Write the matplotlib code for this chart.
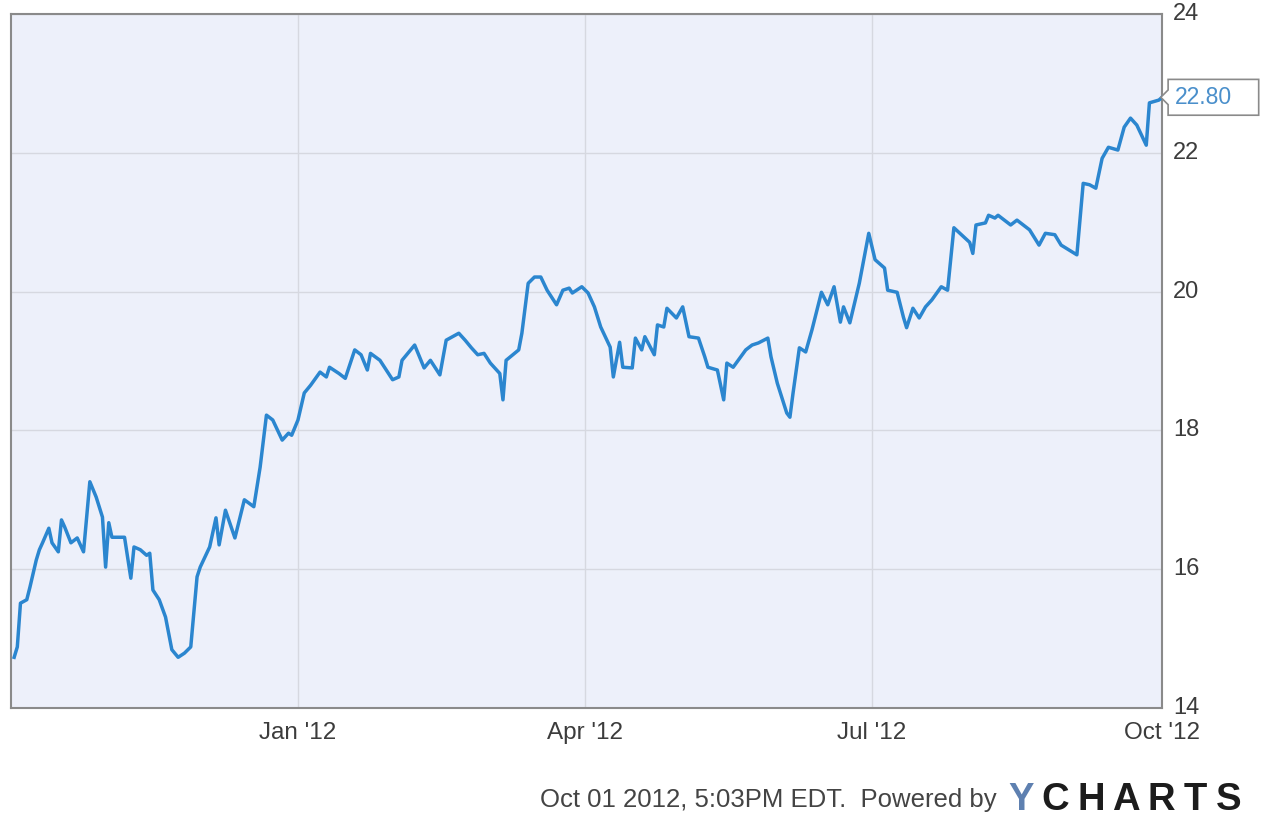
import matplotlib
matplotlib.use("Agg")
import matplotlib.pyplot as plt
from matplotlib.path import Path
import pandas as pd

dates = [
    "2011-10-03", "2011-10-04", "2011-10-05", "2011-10-07", "2011-10-08", "2011-10-10",
    "2011-10-11", "2011-10-12", "2011-10-14", "2011-10-15", "2011-10-17", "2011-10-18",
    "2011-10-19", "2011-10-21", "2011-10-23", "2011-10-25", "2011-10-27", "2011-10-29",
    "2011-10-31", "2011-11-01", "2011-11-02", "2011-11-03", "2011-11-07", "2011-11-09",
    "2011-11-10", "2011-11-12", "2011-11-14", "2011-11-15", "2011-11-16", "2011-11-18",
    "2011-11-20", "2011-11-22", "2011-11-24", "2011-11-26", "2011-11-28", "2011-11-30",
    "2011-12-01", "2011-12-04", "2011-12-06", "2011-12-07", "2011-12-09", "2011-12-12",
    "2011-12-15", "2011-12-18", "2011-12-20", "2011-12-22", "2011-12-24", "2011-12-27",
    "2011-12-29", "2011-12-30", "2012-01-01", "2012-01-03", "2012-01-05", "2012-01-08",
    "2012-01-10", "2012-01-11", "2012-01-14", "2012-01-16", "2012-01-19", "2012-01-21",
    "2012-01-23", "2012-01-24", "2012-01-27", "2012-01-31", "2012-02-02", "2012-02-03",
    "2012-02-07", "2012-02-10", "2012-02-12", "2012-02-15", "2012-02-17", "2012-02-19",
    "2012-02-21", "2012-02-23", "2012-02-25", "2012-02-27", "2012-02-29", "2012-03-02",
    "2012-03-05", "2012-03-06", "2012-03-07", "2012-03-11", "2012-03-12", "2012-03-14",
    "2012-03-16", "2012-03-18", "2012-03-20", "2012-03-23", "2012-03-25", "2012-03-27",
    "2012-03-28", "2012-03-31", "2012-04-02", "2012-04-04", "2012-04-06", "2012-04-09",
    "2012-04-10", "2012-04-12", "2012-04-13", "2012-04-16", "2012-04-17", "2012-04-19",
    "2012-04-20", "2012-04-23", "2012-04-24", "2012-04-26", "2012-04-27", "2012-04-30",
    "2012-05-02", "2012-05-04", "2012-05-07", "2012-05-09", "2012-05-10", "2012-05-13",
    "2012-05-15", "2012-05-16", "2012-05-18", "2012-05-22", "2012-05-24", "2012-05-26",
    "2012-05-29", "2012-05-30", "2012-06-01", "2012-06-04", "2012-06-05", "2012-06-06",
    "2012-06-08", "2012-06-10", "2012-06-12", "2012-06-15", "2012-06-17", "2012-06-19",
    "2012-06-21", "2012-06-22", "2012-06-24", "2012-06-27", "2012-06-29", "2012-06-30",
    "2012-07-02", "2012-07-05", "2012-07-06", "2012-07-09", "2012-07-11", "2012-07-12",
    "2012-07-14", "2012-07-16", "2012-07-18", "2012-07-20", "2012-07-23", "2012-07-25",
    "2012-07-27", "2012-08-01", "2012-08-02", "2012-08-03", "2012-08-06", "2012-08-07",
    "2012-08-09", "2012-08-10", "2012-08-14", "2012-08-16", "2012-08-20", "2012-08-23",
    "2012-08-25", "2012-08-28", "2012-08-30", "2012-09-04", "2012-09-06", "2012-09-08",
    "2012-09-10", "2012-09-12", "2012-09-14", "2012-09-17", "2012-09-19", "2012-09-21",
    "2012-09-23", "2012-09-26", "2012-09-27", "2012-09-30", "2012-10-01",
]

prices = [
    14.73, 14.88, 15.51, 15.56, 15.74, 16.13,
    16.28, 16.38, 16.59, 16.38, 16.25, 16.71,
    16.61, 16.38, 16.45, 16.25, 17.26, 17.04,
    16.75, 16.03, 16.67, 16.46, 16.46, 15.87,
    16.32, 16.28, 16.20, 16.23, 15.70, 15.56,
    15.31, 14.84, 14.73, 14.79, 14.88, 15.89,
    16.03, 16.32, 16.74, 16.35, 16.85, 16.45,
    17.00, 16.90, 17.47, 18.22, 18.15, 17.86,
    17.96, 17.93, 18.15, 18.54, 18.65, 18.84,
    18.77, 18.91, 18.82, 18.75, 19.16, 19.09,
    18.87, 19.11, 19.01, 18.73, 18.77, 19.01,
    19.23, 18.90, 19.01, 18.80, 19.30, 19.35,
    19.40, 19.30, 19.19, 19.09, 19.11, 18.97,
    18.82, 18.44, 19.01, 19.16, 19.40, 20.12,
    20.21, 20.21, 20.02, 19.81, 20.02, 20.05,
    19.98, 20.07, 19.98, 19.78, 19.49, 19.20,
    18.77, 19.27, 18.91, 18.90, 19.33, 19.16,
    19.35, 19.09, 19.52, 19.49, 19.76, 19.62,
    19.78, 19.35, 19.33, 19.06, 18.91, 18.87,
    18.44, 18.97, 18.91, 19.16, 19.23, 19.26,
    19.33, 19.06, 18.68, 18.25, 18.19, 18.54,
    19.19, 19.13, 19.45, 19.99, 19.81, 20.07,
    19.56, 19.78, 19.55, 20.12, 20.60, 20.84,
    20.46, 20.34, 20.02, 19.99, 19.63, 19.48,
    19.76, 19.62, 19.78, 19.88, 20.07, 20.02,
    20.92, 20.71, 20.55, 20.96, 20.99, 21.10,
    21.06, 21.10, 20.96, 21.03, 20.89, 20.67,
    20.84, 20.82, 20.67, 20.53, 21.56, 21.54,
    21.49, 21.92, 22.08, 22.04, 22.37, 22.50,
    22.40, 22.11, 22.72, 22.76, 22.80,
]

x_start = "2011-10-02"
x_end = "2012-10-01"
tick_dates = ["2012-01-01", "2012-04-01", "2012-07-01", "2012-10-01"]
tick_labels = ["Jan '12", "Apr '12", "Jul '12", "Oct '12"]
y_ticks = [14, 16, 18, 20, 22, 24]
last_label = "22.80"
footer_text = "Oct 01 2012, 5:03PM EDT.  Powered by"
logo_letters = ["Y", "C", "H", "A", "R", "T", "S"]

plt.rcParams['font.family'] = ['Liberation Sans', 'DejaVu Sans']


def tag_box(x0, y0, width, height, mutation_size):
    pad = 0.28 * mutation_size
    tip = 0.32 * mutation_size
    extra = 0.9 * mutation_size
    x0 -= pad
    y0 -= pad
    x1 = x0 + width + 2 * pad + extra
    y1 = y0 + height + 2 * pad
    ym = 0.5 * (y0 + y1)
    verts = [(x0, y0), (x1, y0), (x1, y1), (x0, y1), (x0, ym + tip),
             (x0 - tip, ym), (x0, ym - tip), (x0, y0)]
    return Path(verts, closed=True)


d = pd.to_datetime(dates)
fig = plt.figure(figsize=(12.65, 8.16), dpi=100)
fig.patch.set_facecolor("white")
ax = fig.add_axes([0.0087, 0.1324, 0.9099, 0.8504])
ax.set_facecolor("#EDF0FA")

line_color = "#2B86CF"
ax.plot(d, prices, color=line_color, lw=2.5, solid_joinstyle="round", zorder=3)

ax.set_xlim(pd.Timestamp(x_start), pd.Timestamp(x_end))
ax.set_ylim(14, 24)
ax.set_xticks(pd.to_datetime(tick_dates))
ax.set_xticklabels(tick_labels)
ax.set_yticks(y_ticks)
ax.yaxis.tick_right()
ax.grid(True, color="#D6D8E0", lw=1.0, zorder=0)
ax.tick_params(axis="x", length=0, pad=10, labelsize=17.5, labelcolor="#3C3C3C")
ax.tick_params(axis="y", length=0, pad=8, labelsize=17, labelcolor="#3C3C3C")
for lab in ax.get_yticklabels():
    lab.set_verticalalignment("center")
for s in ax.spines.values():
    s.set_color("#8A8A8A")
    s.set_linewidth(1.5)

# last value callout
ax.annotate(last_label, xy=(d[-1], prices[-1]), xytext=(9, 0), textcoords="offset points",
            ha="left", va="center", fontsize=16.5, color="#4A8FCB",
            bbox=dict(boxstyle=tag_box, fc="white", ec="#8A8A8A", lw=1.2),
            annotation_clip=False, zorder=5)

fig.text(0.788, 0.011, footer_text, ha="right", va="baseline", fontsize=18.5, color="#444444")
logo_x = [1008, 1041, 1077, 1112, 1148, 1184, 1216]
for ch, xp in zip(logo_letters, logo_x):
    fig.text(xp / 1265, 0.0074, ch, ha="left", va="baseline", fontsize=27.5,
             fontweight="bold", color="#5E80B0" if ch == "Y" else "#1C1C1C")

fig.savefig("out.png", dpi=100)
